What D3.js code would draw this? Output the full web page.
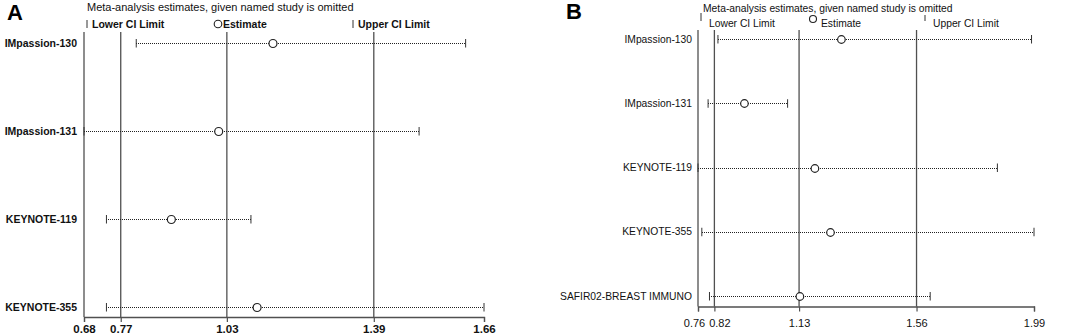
<!DOCTYPE html>
<html>
<head>
<meta charset="utf-8">
<script src="https://cdn.jsdelivr.net/npm/d3@7"></script>
<style>
  html, body { margin: 0; padding: 0; background: #fff; }
  svg { display: block; font-family: "Liberation Sans", Arial, sans-serif; }
</style>
</head>
<body>
<svg id="chart" width="1065" height="336"></svg>
<script>
// ---- Panel A data ----
const studiesA = ["IMpassion-130", "IMpassion-131", "KEYNOTE-119", "KEYNOTE-355"];
const estimateA = [1.143, 1.010, 0.894, 1.104];
const lowerA = [0.808, 0.68, 0.735, 0.735];
const upperA = [1.615, 1.501, 1.089, 1.66];
const overallA = [0.77, 1.03, 1.39];         // lower CI, estimate, upper CI
const ticksA = [0.68, 0.77, 1.03, 1.39, 1.66];

// ---- Panel B data ----
const studiesB = ["IMpassion-130", "IMpassion-131", "KEYNOTE-119", "KEYNOTE-355", "SAFIR02-BREAST IMMUNO"];
const estimateB = [1.285, 0.930, 1.188, 1.245, 1.133];
const lowerB = [0.833, 0.797, 0.76, 0.774, 0.802];
const upperB = [1.981, 1.088, 1.856, 1.99, 1.61];
const overallB = [0.82, 1.13, 1.56];
const ticksB = [0.76, 0.82, 1.13, 1.56, 1.99];

const titleText = "Meta-analysis estimates, given named study is omitted";
const legendLabels = ["Lower CI Limit", "Estimate", "Upper CI Limit"];

const svg = d3.select("#chart");
const lineColor = "#505050";

function drawPanel(cfg) {
  const g = svg.append("g");
  const x = d3.scaleLinear().domain([cfg.ticks[0], cfg.ticks[cfg.ticks.length - 1]]).range(cfg.xRange);
  const y = d3.scalePoint().domain(cfg.studies).range(cfg.yRange);
  const fw = cfg.bold ? "bold" : "normal";

  // panel letter
  g.append("text").attr("x", cfg.letterPos[0]).attr("y", cfg.letterPos[1])
    .attr("font-size", cfg.letterSize).attr("font-weight", "bold").attr("fill", "#000")
    .text(cfg.letter);

  // title
  g.append("text").attr("x", cfg.titlePos[0]).attr("y", cfg.titlePos[1])
    .attr("font-size", cfg.titleSize).attr("fill", "#111").text(titleText);

  // legend
  const L = cfg.legend;
  g.append("line").attr("x1", L.tick1[0]).attr("x2", L.tick1[0]).attr("y1", L.tick1[1]).attr("y2", L.tick1[2])
    .attr("stroke", "#333").attr("stroke-width", 1);
  g.append("text").attr("x", L.text1[0]).attr("y", L.text1[1]).attr("font-size", cfg.fontSize)
    .attr("font-weight", fw).attr("fill", "#111").text(legendLabels[0]);
  g.append("circle").attr("cx", L.circ[0]).attr("cy", L.circ[1]).attr("r", L.circ[2])
    .attr("fill", "none").attr("stroke", "#222").attr("stroke-width", 1.1);
  g.append("text").attr("x", L.text2[0]).attr("y", L.text2[1]).attr("font-size", cfg.fontSize)
    .attr("font-weight", fw).attr("fill", "#111").text(legendLabels[1]);
  g.append("line").attr("x1", L.tick2[0]).attr("x2", L.tick2[0]).attr("y1", L.tick2[1]).attr("y2", L.tick2[2])
    .attr("stroke", "#333").attr("stroke-width", 1);
  g.append("text").attr("x", L.text3[0]).attr("y", L.text3[1]).attr("font-size", cfg.fontSize)
    .attr("font-weight", fw).attr("fill", "#111").text(legendLabels[2]);

  // reference vertical lines (overall CI + estimate)
  g.selectAll("line.ref").data(cfg.overall).enter().append("line")
    .attr("class", "ref")
    .attr("x1", d => x(d)).attr("x2", d => x(d))
    .attr("y1", cfg.lineTop).attr("y2", cfg.axisY)
    .attr("stroke", lineColor).attr("stroke-width", 1.3);

  // left vertical axis line
  g.append("line").attr("x1", cfg.xRange[0]).attr("x2", cfg.xRange[0])
    .attr("y1", cfg.lineTop).attr("y2", cfg.axisY)
    .attr("stroke", lineColor).attr("stroke-width", 1.3);

  // x axis
  const axis = d3.axisBottom(x).tickValues(cfg.ticks).tickSize(5).tickPadding(cfg.tickPad)
    .tickFormat(d3.format(".2f"));
  const ax = g.append("g").attr("transform", `translate(0,${cfg.axisY})`).call(axis);
  ax.select(".domain").attr("stroke", lineColor).attr("stroke-width", 1.3);
  ax.selectAll(".tick line").attr("stroke", lineColor).attr("stroke-width", 1.2);
  ax.selectAll(".tick text").attr("font-size", cfg.tickSize).attr("font-weight", fw)
    .attr("fill", "#111").attr("font-family", "Liberation Sans, Arial, sans-serif")
    .attr("dx", (d, i) => (cfg.tickShift[i] || 0));

  // study labels
  g.selectAll("text.study").data(cfg.studies).enter().append("text")
    .attr("class", "study")
    .attr("x", cfg.labelX).attr("y", d => y(d)).attr("dy", "0.35em")
    .attr("text-anchor", "end").attr("font-size", cfg.fontSize).attr("font-weight", fw)
    .attr("fill", "#111").text(d => d);

  const rows = cfg.studies.map((s, i) => ({ s, est: cfg.est[i], lo: cfg.lo[i], hi: cfg.hi[i] }));

  // CI dotted lines
  g.selectAll("line.ci").data(rows).enter().append("line")
    .attr("class", "ci")
    .attr("x1", d => Math.round(x(d.lo))).attr("x2", d => Math.round(x(d.hi)))
    .attr("y1", d => Math.round(y(d.s)) + 0.5).attr("y2", d => Math.round(y(d.s)) + 0.5)
    .attr("stroke", "#222").attr("stroke-width", 1).attr("stroke-dasharray", "1,1")
    .attr("shape-rendering", "crispEdges");
  // caps
  rows.forEach(d => {
    [d.lo, d.hi].forEach(v => {
      g.append("line").attr("x1", x(v)).attr("x2", x(v))
        .attr("y1", y(d.s) - 4).attr("y2", y(d.s) + 4.5)
        .attr("stroke", "#333").attr("stroke-width", 1);
    });
  });
  // estimate circles
  g.selectAll("circle.est").data(rows).enter().append("circle")
    .attr("class", "est")
    .attr("cx", d => x(d.est)).attr("cy", d => Math.round(y(d.s)) + 0.5).attr("r", cfg.r)
    .attr("fill", "#fff").attr("stroke", "#222").attr("stroke-width", 1.2);
}

drawPanel({
  letter: "A", letterPos: [7, 20], letterSize: 22,
  titlePos: [87, 11], titleSize: 11,
  bold: true, fontSize: 10.5, tickSize: 11.5, tickPad: 3, tickShift: [],
  studies: studiesA, est: estimateA, lo: lowerA, hi: upperA,
  overall: overallA, ticks: ticksA,
  xRange: [84, 484], yRange: [43, 307], axisY: 317, lineTop: 32,
  labelX: 77, r: 4,
  legend: {
    tick1: [87, 20, 28], text1: [92, 28],
    circ: [218, 24, 3.8], text2: [223, 28],
    tick2: [353, 20, 28], text3: [358, 28]
  }
});

drawPanel({
  letter: "B", letterPos: [566, 19], letterSize: 22,
  titlePos: [703, 11.5], titleSize: 10.3,
  bold: false, fontSize: 10.3, tickSize: 11, tickPad: 8, tickShift: [-4, 5],
  studies: studiesB, est: estimateB, lo: lowerB, hi: upperB,
  overall: overallB, ticks: ticksB,
  xRange: [698, 1034], yRange: [39, 296], axisY: 306.5, lineTop: 30,
  labelX: 692, r: 3.8,
  legend: {
    tick1: [701, 13, 21], text1: [709, 27],
    circ: [813, 19, 3.5], text2: [821, 27],
    tick2: [925, 15, 21], text3: [933, 27]
  }
});
</script>
</body>
</html>
